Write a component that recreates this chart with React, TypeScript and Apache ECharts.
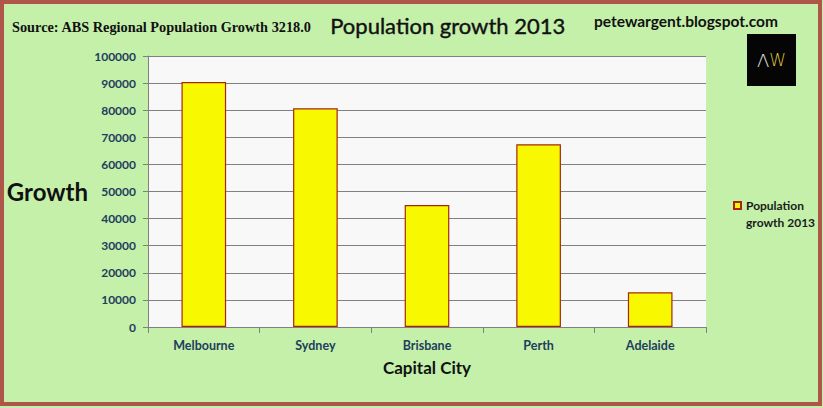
import { useEffect, useRef } from 'react';
import * as echarts from 'echarts';

const cities = ['Melbourne', 'Sydney', 'Brisbane', 'Perth', 'Adelaide'];
const growth2013 = [90400, 80700, 45000, 67400, 12800];
const seriesName = 'Population growth 2013';

const LABEL = '#1f3d5c';
const CALIBRI = 'Lato, "Open Sans", sans-serif';

export default function App() {
  const ref = useRef<HTMLDivElement>(null);

  useEffect(() => {
    if (!ref.current) return;
    const chart = echarts.init(ref.current, undefined, { renderer: 'svg' });
    chart.setOption({
      animation: false,
      backgroundColor: '#c4f0aa',
      grid: { left: 148, right: 117, top: 56, bottom: 81 },
      legend: {
        left: 733,
        top: 180,
        padding: 0,
        orient: 'vertical',
        itemWidth: 7,
        itemHeight: 7,
        icon: 'rect',
        // leading blank line keeps the icon level with the first line
        formatter: () => '\nPopulation\ngrowth 2013',
        textStyle: {
          fontFamily: CALIBRI,
          fontWeight: 'bold',
          fontSize: 12,
          color: '#1a1a1a',
          lineHeight: 17,
        },
      },
      xAxis: {
        type: 'category',
        data: cities,
        name: 'Capital City',
        nameLocation: 'middle',
        nameGap: 32,
        nameTextStyle: { fontFamily: CALIBRI, fontWeight: 'bold', fontSize: 17, color: '#111' },
        axisLine: { lineStyle: { color: '#808080' } },
        axisTick: { show: true, length: 6, lineStyle: { color: '#808080' } },
        axisLabel: { margin: 12, fontFamily: CALIBRI, fontWeight: 'bold', fontSize: 12.5, color: LABEL },
      },
      yAxis: {
        type: 'value',
        min: 0,
        max: 100000,
        interval: 10000,
        name: 'Growth',
        nameLocation: 'middle',
        nameRotate: 0,
        nameGap: 60,
        nameTextStyle: { fontFamily: CALIBRI, fontWeight: 'bold', fontSize: 24, color: '#111' },
        axisLine: { show: true, lineStyle: { color: '#808080' } },
        axisTick: { show: true, length: 5, lineStyle: { color: '#808080' } },
        axisLabel: {
          margin: 12,
          formatter: (v: number) => String(v),
          fontFamily: CALIBRI,
          fontWeight: 'bold',
          fontSize: 12,
          color: LABEL,
        },
        splitLine: { lineStyle: { color: '#808080', width: 1 } },
      },
      series: [
        {
          name: seriesName,
          type: 'bar',
          data: growth2013,
          barWidth: '40%',
          itemStyle: { color: '#f8f800', borderColor: '#a8260f', borderWidth: 1.2 },
        },
      ],
      graphic: [
        // plot background
        {
          type: 'rect',
          shape: { x: 148, y: 56, width: 558, height: 271 },
          style: { fill: '#f8f8f8' },
          z: -10,
          silent: true,
        },
        // outer frame
        {
          type: 'rect',
          shape: { x: 2, y: 2, width: 818, height: 402 },
          style: { fill: 'none', stroke: '#b0554a', lineWidth: 4 },
          z: 100,
          silent: true,
        },
        {
          type: 'text',
          left: 12,
          top: 20,
          style: {
            text: 'Source: ABS Regional Population Growth 3218.0',
            fontFamily: '"Liberation Serif", serif',
            fontWeight: 'bold',
            fontSize: 14.3,
            fill: '#111',
          },
        },
        {
          type: 'text',
          left: 330,
          top: 14,
          style: {
            text: 'Population growth 2013',
            fontFamily: CALIBRI,
            fontSize: 22,
            fill: '#111',
            stroke: '#111',
            lineWidth: 0.4,
          },
        },
        {
          type: 'text',
          left: 594,
          top: 13,
          style: {
            text: 'petewargent.blogspot.com',
            fontFamily: CALIBRI,
            fontWeight: 'bold',
            fontSize: 15.5,
            fill: '#111',
          },
        },
        // logo
        {
          type: 'rect',
          shape: { x: 747, y: 34, width: 49, height: 52 },
          style: { fill: '#050505' },
        },
        {
          type: 'text',
          x: 771.5,
          y: 60,
          style: {
            text: '{a|Λ}{b|W}',
            align: 'center',
            verticalAlign: 'middle',
            rich: {
              a: { fontFamily: '"DejaVu Sans", sans-serif', fontWeight: 200, fontSize: 18, fill: '#e0e0e0' },
              b: { fontFamily: '"DejaVu Sans", sans-serif', fontWeight: 200, fontSize: 17, fill: '#d9c23a' },
            },
          },
        },
      ],
    });
    return () => chart.dispose();
  }, []);

  return <div ref={ref} style={{ position: 'fixed', left: 0, top: 0, width: 823, height: 408 }} />;
}
